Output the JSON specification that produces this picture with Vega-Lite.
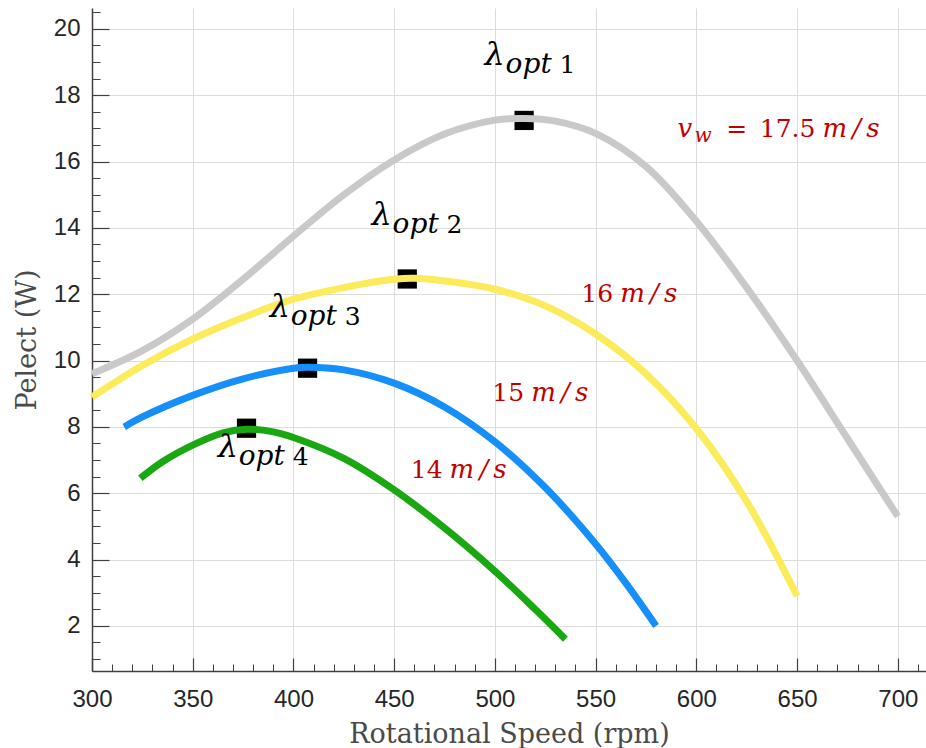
{
  "$schema": "https://vega.github.io/schema/vega-lite/v6.json",
  "width": 834,
  "height": 663,
  "autosize": {"type": "none"},
  "padding": {"left": 92, "top": 8, "right": 0, "bottom": 77},
  "background": "white",
  "config": {"view": {"stroke": null}, "font": "Liberation Sans"},
  "datasets": {
    "curves": [
      {"s": "17.5", "rpm": 300, "p": 9.6}, {"s": "17.5", "rpm": 325, "p": 10.3}, {"s": "17.5", "rpm": 350, "p": 11.25}, {"s": "17.5", "rpm": 375, "p": 12.45}, {"s": "17.5", "rpm": 400, "p": 13.75}, {"s": "17.5", "rpm": 425, "p": 15.0}, {"s": "17.5", "rpm": 450, "p": 16.05}, {"s": "17.5", "rpm": 475, "p": 16.83}, {"s": "17.5", "rpm": 500, "p": 17.25}, {"s": "17.5", "rpm": 515, "p": 17.3}, {"s": "17.5", "rpm": 530, "p": 17.22}, {"s": "17.5", "rpm": 550, "p": 16.85}, {"s": "17.5", "rpm": 575, "p": 15.85}, {"s": "17.5", "rpm": 600, "p": 14.2}, {"s": "17.5", "rpm": 625, "p": 12.2}, {"s": "17.5", "rpm": 650, "p": 10.0}, {"s": "17.5", "rpm": 675, "p": 7.65}, {"s": "17.5", "rpm": 700, "p": 5.3},
      {"s": "16", "rpm": 300, "p": 8.9}, {"s": "16", "rpm": 325, "p": 9.85}, {"s": "16", "rpm": 350, "p": 10.65}, {"s": "16", "rpm": 375, "p": 11.3}, {"s": "16", "rpm": 400, "p": 11.85}, {"s": "16", "rpm": 425, "p": 12.2}, {"s": "16", "rpm": 450, "p": 12.45}, {"s": "16", "rpm": 460, "p": 12.48}, {"s": "16", "rpm": 475, "p": 12.4}, {"s": "16", "rpm": 500, "p": 12.15}, {"s": "16", "rpm": 525, "p": 11.65}, {"s": "16", "rpm": 550, "p": 10.8}, {"s": "16", "rpm": 575, "p": 9.6}, {"s": "16", "rpm": 600, "p": 7.95}, {"s": "16", "rpm": 625, "p": 5.75}, {"s": "16", "rpm": 650, "p": 2.9},
      {"s": "15", "rpm": 316, "p": 8.0}, {"s": "15", "rpm": 325, "p": 8.3}, {"s": "15", "rpm": 350, "p": 8.95}, {"s": "15", "rpm": 375, "p": 9.45}, {"s": "15", "rpm": 400, "p": 9.77}, {"s": "15", "rpm": 407, "p": 9.8}, {"s": "15", "rpm": 425, "p": 9.72}, {"s": "15", "rpm": 450, "p": 9.32}, {"s": "15", "rpm": 475, "p": 8.6}, {"s": "15", "rpm": 500, "p": 7.55}, {"s": "15", "rpm": 525, "p": 6.17}, {"s": "15", "rpm": 550, "p": 4.47}, {"s": "15", "rpm": 565, "p": 3.29}, {"s": "15", "rpm": 580, "p": 2.0},
      {"s": "14", "rpm": 324, "p": 6.45}, {"s": "14", "rpm": 335, "p": 6.95}, {"s": "14", "rpm": 350, "p": 7.45}, {"s": "14", "rpm": 365, "p": 7.82}, {"s": "14", "rpm": 377, "p": 7.93}, {"s": "14", "rpm": 390, "p": 7.85}, {"s": "14", "rpm": 400, "p": 7.68}, {"s": "14", "rpm": 425, "p": 7.05}, {"s": "14", "rpm": 450, "p": 6.1}, {"s": "14", "rpm": 475, "p": 4.95}, {"s": "14", "rpm": 500, "p": 3.65}, {"s": "14", "rpm": 520, "p": 2.5}, {"s": "14", "rpm": 535, "p": 1.6}
    ],
    "peaks": [
      {"rpm": 514.5, "p": 17.24}, {"rpm": 456.5, "p": 12.46}, {"rpm": 407, "p": 9.77}, {"rpm": 376.7, "p": 7.96}
    ],
    "lam": [
      {"x": 494.9, "y": 18.91, "n": "1"}, {"x": 438.8, "y": 14.09, "n": "2"}, {"x": 388.2, "y": 11.31, "n": "3"}, {"x": 362.4, "y": 7.09, "n": "4"}
    ],
    "vel": [
      {"x": 660.6, "y": 16.74, "num": "=\u200217.5"}, {"x": 560.2, "y": 11.76, "num": "16"}, {"x": 516.0, "y": 8.78, "num": "15"}, {"x": 475.5, "y": 6.46, "num": "14"}
    ],
    "vw": [{"x": 590.7, "y": 16.74}]
  },
  "layer": [
    {
      "data": {"name": "curves"},
      "mark": {"type": "point", "opacity": 0},
      "encoding": {
        "x": {"field": "rpm", "type": "quantitative", "scale": {"domain": [300, 714], "nice": false, "zero": false},
          "axis": {"orient": "bottom", "values": [300,310,320,330,340,350,360,370,380,390,400,410,420,430,440,450,460,470,480,490,500,510,520,530,540,550,560,570,580,590,600,610,620,630,640,650,660,670,680,690,700,710], "labels": false, "domain": false, "grid": false, "ticks": true, "tickSize": -7, "tickColor": "#404040", "tickWidth": 1, "title": null}},
        "y": {"field": "p", "type": "quantitative", "scale": {"domain": [0.64, 20.63], "nice": false, "zero": false},
          "axis": {"orient": "left", "values": [1,1.5,2,2.5,3,3.5,4,4.5,5,5.5,6,6.5,7,7.5,8,8.5,9,9.5,10,10.5,11,11.5,12,12.5,13,13.5,14,14.5,15,15.5,16,16.5,17,17.5,18,18.5,19,19.5,20,20.5], "labels": false, "domain": false, "grid": false, "ticks": true, "tickSize": -8, "tickColor": "#404040", "tickWidth": 1, "title": null}}
      }
    },
    {
      "data": {"name": "curves"},
      "mark": {"type": "point", "opacity": 0},
      "encoding": {
        "x": {"field": "rpm", "type": "quantitative",
          "axis": {"orient": "bottom", "values": [300,350,400,450,500,550,600,650,700], "labels": false, "domain": false, "grid": false, "ticks": true, "tickSize": -13, "tickColor": "#404040", "tickWidth": 1.2, "title": null}},
        "y": {"field": "p", "type": "quantitative",
          "axis": {"orient": "left", "values": [2,4,6,8,10,12,14,16,18,20], "labels": false, "domain": false, "grid": false, "ticks": true, "tickSize": -17, "tickColor": "#404040", "tickWidth": 1.2, "title": null}}
      }
    },
    {
      "data": {"name": "peaks"},
      "mark": {"type": "point", "shape": "square", "filled": true, "size": 370, "color": "black", "opacity": 1},
      "encoding": {
        "x": {"field": "rpm", "type": "quantitative", "axis": null},
        "y": {"field": "p", "type": "quantitative", "axis": null}
      }
    },
    {
      "data": {"name": "curves"},
      "mark": {"type": "line", "strokeWidth": 7, "strokeCap": "butt", "interpolate": "catmull-rom"},
      "encoding": {
        "x": {"field": "rpm", "type": "quantitative",
          "axis": {"orient": "bottom", "values": [300,350,400,450,500,550,600,650,700], "ticks": false, "grid": true, "gridColor": "#dcdcdc", "gridWidth": 1, "domain": true, "domainColor": "#404040", "domainWidth": 1.5, "labelFont": "Liberation Sans", "labelFontSize": 24, "labelColor": "#262626", "labelPadding": 16, "labelFlush": false, "labelOverlap": false, "title": "Rotational Speed (rpm)", "titleFont": "DejaVu Serif", "titleFontSize": 27, "titleFontWeight": "normal", "titleColor": "#4a4a4a", "titlePadding": 10}},
        "y": {"field": "p", "type": "quantitative",
          "axis": {"orient": "left", "values": [2,4,6,8,10,12,14,16,18,20], "ticks": false, "grid": true, "gridColor": "#dcdcdc", "gridWidth": 1, "domain": true, "domainColor": "#404040", "domainWidth": 1.5, "labelFont": "Liberation Sans", "labelFontSize": 24, "labelColor": "#262626", "labelPadding": 12, "labelFlush": false, "labelOverlap": false, "title": "Pelect (W)", "titleFont": "DejaVu Serif", "titleFontSize": 27, "titleFontWeight": "normal", "titleColor": "#4a4a4a", "titlePadding": 12}},
        "color": {"field": "s", "type": "nominal", "legend": null,
          "scale": {"domain": ["17.5", "16", "15", "14"], "range": ["#c9c9c9", "#fceb5b", "#178ffa", "#1aa812"]}},
        "order": {"field": "rpm", "type": "quantitative"}
      }
    },
    {
      "data": {"name": "lam"},
      "mark": {"type": "text", "font": "DejaVu Serif", "fontStyle": "italic", "fontSize": 32, "align": "left", "baseline": "alphabetic", "color": "black"},
      "encoding": {
        "x": {"field": "x", "type": "quantitative", "axis": null},
        "y": {"field": "y", "type": "quantitative", "axis": null},
        "text": {"value": "λ"}
      }
    },
    {
      "data": {"name": "lam"},
      "mark": {"type": "text", "font": "DejaVu Serif", "fontStyle": "italic", "fontSize": 28, "align": "left", "baseline": "alphabetic", "color": "black", "dx": 21, "dy": 8},
      "encoding": {
        "x": {"field": "x", "type": "quantitative", "axis": null},
        "y": {"field": "y", "type": "quantitative", "axis": null},
        "text": {"value": "opt"}
      }
    },
    {
      "data": {"name": "lam"},
      "mark": {"type": "text", "font": "DejaVu Serif", "fontSize": 25, "align": "left", "baseline": "alphabetic", "color": "black", "dx": 75, "dy": 8},
      "encoding": {
        "x": {"field": "x", "type": "quantitative", "axis": null},
        "y": {"field": "y", "type": "quantitative", "axis": null},
        "text": {"field": "n"}
      }
    },
    {
      "data": {"name": "vel"},
      "mark": {"type": "text", "font": "DejaVu Serif", "fontSize": 25, "align": "right", "baseline": "alphabetic", "color": "#c00000", "dx": -3},
      "encoding": {
        "x": {"field": "x", "type": "quantitative", "axis": null},
        "y": {"field": "y", "type": "quantitative", "axis": null},
        "text": {"field": "num"}
      }
    },
    {
      "data": {"name": "vel"},
      "mark": {"type": "text", "font": "DejaVu Serif", "fontStyle": "italic", "fontSize": 26, "align": "left", "baseline": "alphabetic", "color": "#c00000", "dx": 4},
      "encoding": {
        "x": {"field": "x", "type": "quantitative", "axis": null},
        "y": {"field": "y", "type": "quantitative", "axis": null},
        "text": {"value": "m\u2009/\u2009s"}
      }
    },
    {
      "data": {"name": "vw"},
      "mark": {"type": "text", "font": "DejaVu Serif", "fontStyle": "italic", "fontSize": 26, "align": "left", "baseline": "alphabetic", "color": "#c00000"},
      "encoding": {
        "x": {"field": "x", "type": "quantitative", "axis": null},
        "y": {"field": "y", "type": "quantitative", "axis": null},
        "text": {"value": "v"}
      }
    },
    {
      "data": {"name": "vw"},
      "mark": {"type": "text", "font": "DejaVu Serif", "fontStyle": "italic", "fontSize": 20, "align": "left", "baseline": "alphabetic", "color": "#c00000", "dx": 17, "dy": 5},
      "encoding": {
        "x": {"field": "x", "type": "quantitative", "axis": null},
        "y": {"field": "y", "type": "quantitative", "axis": null},
        "text": {"value": "w"}
      }
    }
  ],
  "resolve": {"axis": {"x": "independent", "y": "independent"}}
}
